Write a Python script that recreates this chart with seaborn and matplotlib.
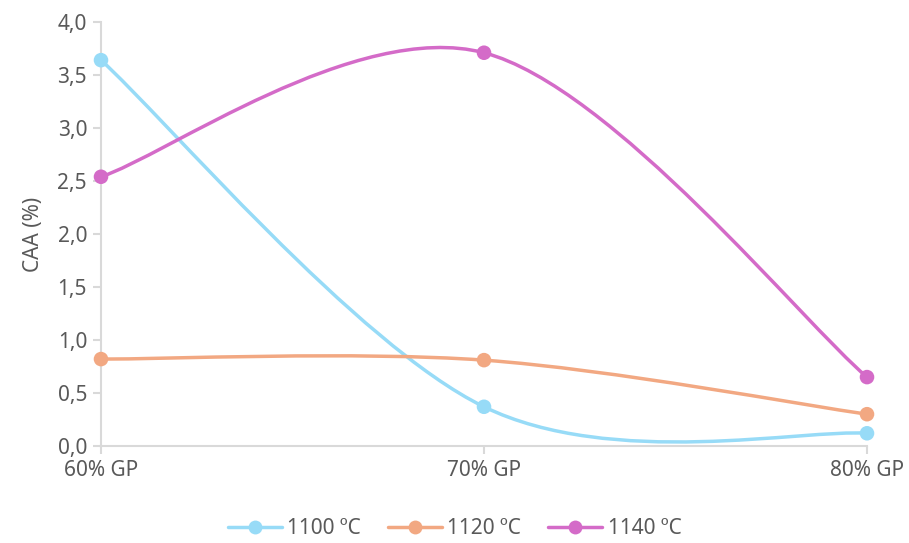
import numpy as np
import pandas as pd
import matplotlib
matplotlib.use("Agg")
import matplotlib.pyplot as plt
import seaborn as sns
from matplotlib.path import Path
from matplotlib.patches import PathPatch
from matplotlib.lines import Line2D
from matplotlib.ticker import FuncFormatter

categories = ["60% GP", "70% GP", "80% GP"]
caa_1100 = [3.64, 0.37, 0.12]
caa_1120 = [0.82, 0.81, 0.30]
caa_1140 = [2.54, 3.71, 0.65]
series_names = ["1100 ºC", "1120 ºC", "1140 ºC"]
colors = ["#97dbf7", "#f2a882", "#d46bc8"]

sns.set_theme(style="white")
plt.rcParams["font.family"] = ["Noto Sans", "DejaVu Sans"]
text_color = "#595959"
axis_color = "#d9d9d9"
fs = 15

df = pd.DataFrame({
    "cat": list(range(len(categories))) * 3,
    "value": caa_1100 + caa_1120 + caa_1140,
    "series": sum([[n] * len(categories) for n in series_names], []),
})

fig = plt.figure(figsize=(9.09, 5.43), dpi=100)
ax = fig.add_axes([101 / 909, 97 / 543, (867 - 101) / 909, (446 - 22) / 543])


def smooth_path(xs, ys):
    """Cubic Bezier path through the points (Catmull-Rom style smoothing)."""
    pts = np.column_stack([xs, ys]).astype(float)
    ext = np.vstack([pts[0], pts, pts[-1]])
    verts = [tuple(pts[0])]
    codes = [Path.MOVETO]
    for i in range(len(pts) - 1):
        p0, p1, p2, p3 = ext[i], ext[i + 1], ext[i + 2], ext[i + 3]
        c1 = p1 + (p2 - p0) / 6.0
        c2 = p2 - (p3 - p1) / 6.0
        verts += [tuple(c1), tuple(c2), tuple(p2)]
        codes += [Path.CURVE4] * 3
    return Path(verts, codes)


for name, color in zip(series_names, colors):
    sub = df[df["series"] == name]
    patch = PathPatch(smooth_path(sub["cat"].values, sub["value"].values),
                      facecolor="none", edgecolor=color, lw=2.5,
                      capstyle="round", joinstyle="round", zorder=2)
    ax.add_patch(patch)

sns.scatterplot(data=df, x="cat", y="value", hue="series", palette=colors,
                s=110, edgecolor="none", legend=False, ax=ax, zorder=3,
                clip_on=False)

ax.set_xlim(0, 2)
ax.set_ylim(0, 4)
ax.set_xticks(range(len(categories)))
ax.set_xticklabels(categories)
ax.set_yticks(np.arange(0, 4.01, 0.5))
ax.yaxis.set_major_formatter(FuncFormatter(lambda v, p: f"{v:.1f}".replace(".", ",")))
ax.set_xlabel("")
ax.set_ylabel("CAA (%)", fontsize=fs, color=text_color, labelpad=10)

for side in ["top", "right"]:
    ax.spines[side].set_visible(False)
for side in ["left", "bottom"]:
    ax.spines[side].set_color(axis_color)
    ax.spines[side].set_linewidth(1.5)
ax.tick_params(axis="both", which="major", direction="out", length=6, width=1.5,
               color=axis_color, labelcolor=text_color, labelsize=fs)
ax.tick_params(axis="x", pad=4)
ax.tick_params(axis="y", pad=4)
ax.tick_params(left=True, bottom=True)
ax.grid(False)

handles = [Line2D([0], [0], color=c, lw=2.5, marker="o", markersize=10,
                  markeredgewidth=0) for c in colors]
fig.legend(handles, series_names, loc="center", bbox_to_anchor=(0.5, 1 - 529 / 543),
           ncol=3, frameon=False, fontsize=fs, labelcolor=text_color,
           handlelength=2.6, handletextpad=0.25, columnspacing=1.3)

fig.savefig("out.png", dpi=100)
